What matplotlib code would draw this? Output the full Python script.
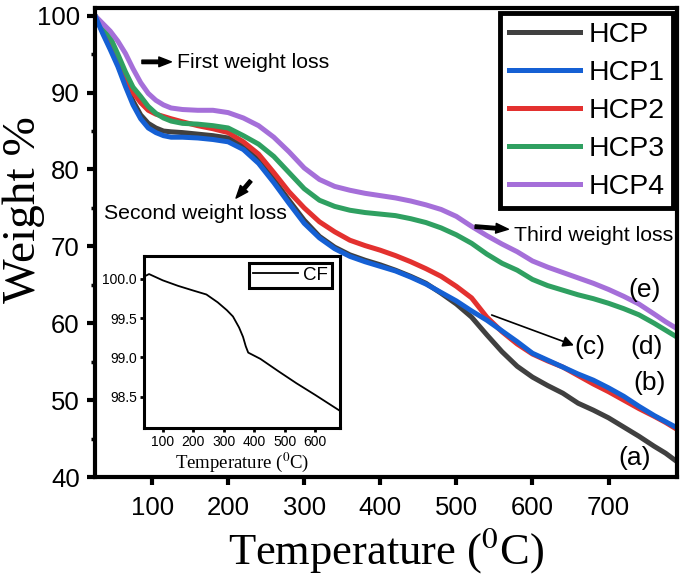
import matplotlib
matplotlib.use('Agg')
import matplotlib.pyplot as plt
from matplotlib.ticker import MultipleLocator

plt.rcParams['font.family'] = ['Liberation Sans', 'DejaVu Sans']
plt.rcParams['mathtext.fontset'] = 'stix'

# TGA curves (temperature in C, weight in %)
temp = [25, 35, 45, 55, 65, 75, 85, 95, 105, 115, 125, 140, 160, 180, 200, 220, 240, 260,
        280, 300, 320, 340, 360, 380, 400, 420, 440, 460, 480, 500, 520, 540, 560, 580,
        600, 620, 640, 660, 680, 700, 720, 740, 760, 775, 790]
hcp = [100.0, 97.9, 95.9, 93.7, 91.2, 88.9, 87.1, 86.0, 85.4, 85.0, 84.9, 84.8, 84.6, 84.4,
       84.1, 83.0, 81.2, 78.7, 76.0, 73.4, 71.3, 69.9, 68.9, 68.2, 67.6, 66.9, 66.1, 65.2,
       63.9, 62.5, 60.8, 58.5, 56.3, 54.4, 53.0, 51.9, 50.9, 49.6, 48.7, 47.7, 46.5, 45.3,
       44.0, 43.1, 42.0]
hcp1 = [100.0, 97.7, 95.6, 93.4, 90.8, 88.4, 86.6, 85.4, 84.8, 84.4, 84.2, 84.2, 84.1, 83.9,
        83.6, 82.6, 80.8, 78.3, 75.6, 73.0, 71.1, 69.7, 68.7, 68.0, 67.4, 66.8, 66.0, 65.1,
        64.0, 62.9, 61.6, 60.4, 59.0, 57.6, 56.1, 55.2, 54.3, 53.4, 52.6, 51.6, 50.5, 49.2,
        48.0, 47.2, 46.4]
hcp2 = [100.0, 98.5, 96.9, 94.6, 92.2, 90.0, 88.7, 87.7, 87.2, 86.9, 86.6, 86.2, 85.7, 85.3,
        84.8, 83.6, 82.0, 79.6, 77.1, 75.0, 73.2, 71.9, 70.8, 70.1, 69.5, 68.8, 68.0, 67.1,
        66.1, 64.8, 63.3, 60.8, 58.9, 57.3, 56.0, 55.1, 54.3, 53.2, 52.1, 51.1, 50.0, 48.9,
        47.9, 47.1, 46.2]
hcp3 = [100.0, 98.6, 97.2, 95.0, 92.7, 90.7, 89.5, 88.2, 87.3, 86.7, 86.3, 86.0, 85.9, 85.7,
        85.4, 84.4, 83.3, 81.7, 79.6, 77.5, 76.0, 75.2, 74.7, 74.4, 74.2, 74.0, 73.6, 73.1,
        72.4, 71.5, 70.4, 69.0, 67.8, 66.9, 65.7, 64.9, 64.3, 63.7, 63.2, 62.6, 61.9, 61.1,
        60.0, 59.1, 58.2]
hcp4 = [100.0, 99.0, 98.0, 96.7, 95.1, 93.1, 91.3, 89.9, 89.0, 88.4, 88.0, 87.8, 87.7, 87.7,
        87.4, 86.7, 85.7, 84.2, 82.3, 80.2, 78.7, 77.8, 77.3, 76.9, 76.6, 76.3, 75.9, 75.4,
        74.8, 73.9, 72.6, 71.4, 70.3, 69.3, 68.1, 67.3, 66.6, 65.9, 65.2, 64.4, 63.5, 62.5,
        61.2, 60.2, 59.3]

# inset: carbon fibre
cf_temp = [40, 55, 100, 150, 200, 243, 280, 310, 330, 350, 363, 372, 380, 420, 480, 538, 600, 680]
cf_weight = [100.03, 100.06, 99.98, 99.91, 99.85, 99.80, 99.70, 99.60, 99.52, 99.38, 99.26,
             99.14, 99.06, 98.98, 98.82, 98.67, 98.52, 98.32]

fig = plt.figure(figsize=(6.85, 5.78), dpi=100)
ax = fig.add_axes([0.1387, 0.1747, 0.8496, 0.8114])

lw = 3.6
l0, = ax.plot(temp, hcp, color='#404040', lw=lw, label='HCP')
l2, = ax.plot(temp, hcp2, color='#e3312f', lw=lw, label='HCP2')
l3, = ax.plot(temp, hcp3, color='#2fa061', lw=lw, label='HCP3')
l4, = ax.plot(temp, hcp4, color='#a56fd9', lw=lw, label='HCP4')
l1, = ax.plot(temp, hcp1, color='#1560d4', lw=lw, label='HCP1')

ax.set_xlim(25, 790)
ax.set_ylim(40, 101)
ax.set_xticks([100, 200, 300, 400, 500, 600, 700])
ax.set_yticks([40, 50, 60, 70, 80, 90, 100])
ax.yaxis.set_minor_locator(MultipleLocator(5))
ax.tick_params(axis='both', which='major', direction='out', length=6, width=3,
               labelsize=18.5, pad=5)
ax.tick_params(axis='y', which='minor', direction='out', length=3, width=2.5)
ax.tick_params(axis='x', pad=8)
for s in ax.spines.values():
    s.set_linewidth(3)

ax.set_xlabel(r'Temperature ($^{0}$C)', family='Liberation Serif', fontsize=32, labelpad=3)
ax.set_ylabel('Weight %', family='Liberation Serif', fontsize=34)
ax.yaxis.set_label_coords(-0.086, 0.571)

leg = ax.legend(handles=[l0, l1, l2, l3, l4], loc='upper right', fontsize=20.5,
                fancybox=False, edgecolor='black', framealpha=1, handlelength=2.5,
                handletextpad=0.3, labelspacing=0.42, borderpad=0.3, borderaxespad=0,
                bbox_to_anchor=(0.993, 0.989))
leg.get_frame().set_linewidth(3.5)

arr = dict(arrowstyle='simple,head_length=0.9,head_width=0.7,tail_width=0.25', color='black')
ax.annotate('', xy=(129, 94.0), xytext=(83, 94.0), arrowprops=arr)
ax.text(133, 93.9, 'First weight loss', fontsize=15.3, va='center')
ax.annotate('', xy=(208, 76.0), xytext=(232, 78.8), arrowprops=arr)
ax.text(37, 74.3, 'Second weight loss', fontsize=15.3, va='center')
ax.annotate('', xy=(572, 72.2), xytext=(521, 72.6), arrowprops=arr)
ax.text(576, 71.4, 'Third weight loss', fontsize=15.3, va='center')
ax.annotate('', xy=(658, 57.0), xytext=(543, 61.2),
            arrowprops=dict(arrowstyle='-|>', color='black', lw=1.2, mutation_scale=16))

for lab, x, y in [('(e)', 747, 64.3), ('(d)', 750, 56.9), ('(c)', 675, 56.9),
                  ('(b)', 754, 52.2), ('(a)', 734, 42.5)]:
    ax.text(x, y, lab, fontsize=19, ha='center', va='center')

# inset
ins = fig.add_axes([0.210, 0.2595, 0.286, 0.2976])
ins.plot(cf_temp, cf_weight, color='black', lw=1.3, label='CF')
ins.set_xlim(38, 680)
ins.set_ylim(98.1, 100.29)
ins.set_xticks([100, 200, 300, 400, 500, 600])
ins.set_yticks([98.5, 99.0, 99.5, 100.0])
ins.set_yticklabels(['98.5', '99.0', '99.5', '100.0'])
ins.tick_params(direction='out', length=3, width=2, labelsize=10, pad=2)
for s in ins.spines.values():
    s.set_linewidth(2.2)
ins.set_xlabel(r'Temperature ($^{0}$C)', family='Liberation Serif', fontsize=13.5, labelpad=1)
il = ins.legend(loc='upper right', fontsize=13.5, fancybox=False, edgecolor='black',
                framealpha=1, handlelength=2.4, handletextpad=0.3, borderpad=0.2,
                borderaxespad=0, bbox_to_anchor=(0.96, 0.96))
il.get_frame().set_linewidth(2.2)

fig.savefig('out.png', dpi=100)
